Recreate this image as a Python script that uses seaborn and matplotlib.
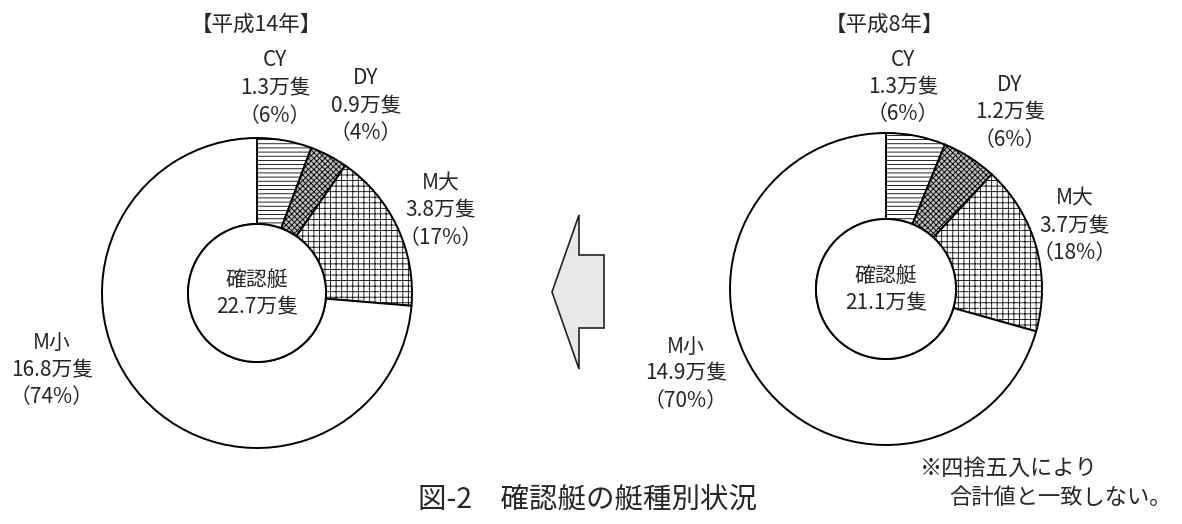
import matplotlib
matplotlib.use("Agg")
import matplotlib.pyplot as plt
from matplotlib.patches import Circle, Polygon
import seaborn as sns

# ---- data ----
categories = ["CY", "DY", "M大", "M小"]
values_h14 = [1.3, 0.9, 3.8, 16.8]
values_h8 = [1.3, 1.2, 3.7, 14.9]
pct_h14 = [6, 4, 17, 74]
pct_h8 = [6, 6, 18, 70]
total_h14 = 22.7
total_h8 = 21.1
titles = ["【平成14年】", "【平成8年】"]
caption = "図-2　確認艇の艇種別状況"
note_lines = ["※四捨五入により", "合計値と一致しない。"]

sns.set_theme(style="white")
plt.rcParams["font.family"] = ["Noto Sans CJK JP", "DejaVu Sans"]
plt.rcParams["hatch.linewidth"] = 0.6

W, H = 1182, 524
fig = plt.figure(figsize=(W / 100, H / 100), dpi=100)
ax = fig.add_axes([0, 0, 1, 1])

facecolors = ["white", "#bdbdbd", "white", "white"]
hatches = ["----", "xxxxxx", "+++", None]

FS = 15


def Y(py):
    return H - py


def draw_donut(cx, cy, R, r, values, total, title_xy, title):
    wedges, _ = ax.pie(values, center=(cx, Y(cy)), radius=R, startangle=90,
                       counterclock=False, colors=facecolors, frame=False,
                       wedgeprops=dict(width=R - r, edgecolor="black", linewidth=1.4))
    for w, h in zip(wedges, hatches):
        if h:
            w.set_hatch(h)
    ax.add_patch(Circle((cx, Y(cy)), r, facecolor="white", edgecolor="black",
                        linewidth=1.4, zorder=5))
    ax.text(cx, Y(cy - 13), "確認艇", ha="center", va="center", fontsize=FS, zorder=6)
    ax.text(cx, Y(cy + 14), f"{total}万隻", ha="center", va="center", fontsize=FS, zorder=6)
    ax.text(title_xy[0], Y(title_xy[1]), title, ha="center", va="center", fontsize=FS + 0.5)


def label(x, ys, cat, val, pct):
    lines = [cat, f"{val}万隻", f"（{pct}%）"]
    for yy, t in zip(ys, lines):
        ax.text(x, Y(yy), t, ha="center", va="center", fontsize=FS)


draw_donut(257, 293, 155, 69, values_h14, total_h14, (256, 25), titles[0])
draw_donut(886, 289, 156, 70, values_h8, total_h8, (884, 25), titles[1])

pos_h14 = [(275, [60, 88, 116]), (366, [78, 106, 133]),
           (441, [183, 210, 238]), (52, [343, 370, 397])]
pos_h8 = [(903, [60, 87, 114]), (1010, [85, 112, 140]),
          (1075, [198, 226, 253]), (686, [347, 373, 401])]
for (x, ys), c, v, p in zip(pos_h14, categories, values_h14, pct_h14):
    label(x, ys, c, v, p)
for (x, ys), c, v, p in zip(pos_h8, categories, values_h8, pct_h8):
    label(x, ys, c, v, p)

# arrow
arrow_px = [(552, 292), (579, 215), (579, 255), (604, 255),
            (604, 328), (579, 328), (579, 369)]
ax.add_patch(Polygon([(x, Y(y)) for x, y in arrow_px], closed=True,
                     facecolor="#e8e8e8", edgecolor="#222222", linewidth=1.2))

# note and caption
ax.text(920, Y(468), note_lines[0], ha="left", va="center", fontsize=16)
ax.text(949, Y(498), note_lines[1], ha="left", va="center", fontsize=16)
ax.text(588, Y(500), caption, ha="center", va="center", fontsize=20.5)

ax.set_xlim(0, W)
ax.set_ylim(0, H)
ax.set_aspect("auto")
ax.axis("off")

fig.savefig("out.png", dpi=100, facecolor="white")
